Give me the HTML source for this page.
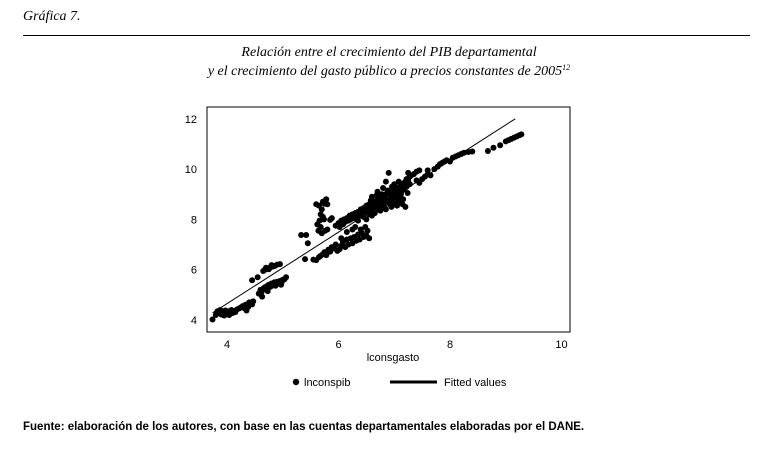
<!DOCTYPE html>
<html><head><meta charset="utf-8"><style>
body{margin:0;background:#fff;width:778px;height:451px;overflow:hidden;position:relative;font-family:"Liberation Sans",sans-serif}
.t{position:absolute;white-space:nowrap}
.serif{font-family:"Liberation Serif",serif;font-style:italic}
</style></head><body>
<div class="t serif" style="left:23px;top:9px;font-size:14px">Gráfica 7.</div>
<div style="position:absolute;left:23px;top:35px;width:727px;height:1px;background:#000"></div>
<div class="t serif" style="left:0;width:778px;text-align:center;top:44px;font-size:14px;line-height:18px">Relación entre el crecimiento del PIB departamental</div>
<div class="t serif" style="left:0;width:778px;text-align:center;top:63px;font-size:14px;line-height:18px">y el crecimiento del gasto público a precios constantes de 2005<span style="font-size:8px;vertical-align:5px;line-height:0">12</span></div>
<svg width="778" height="451" style="position:absolute;left:0;top:0">
<rect x="207" y="107" width="363" height="225" fill="none" stroke="#000" stroke-width="1"/>
<g id="ax" font-family="Liberation Sans, sans-serif" font-size="11" fill="#000"></g>
<g id="marks"></g>
<g font-family="Liberation Sans, sans-serif" font-size="11">
<circle cx="296" cy="382" r="3.2" fill="#000"/>
<text x="304" y="386">lnconspib</text>
<line x1="390" y1="382" x2="437" y2="382" stroke="#000" stroke-width="3"/>
<text x="444" y="386">Fitted values</text>
<text x="393" y="361" text-anchor="middle">lconsgasto</text>
</g>
</svg>
<div class="t" style="left:23px;top:421px;font-size:11.5px;font-weight:bold">Fuente: elaboración de los autores, con base en las cuentas departamentales elaboradas por el DANE.</div>
<script>
const xTicks=[4,6,8,10];
const yTicks=[4,6,8,10,12];
const fitX=[3.74,9.17];
const fitY=[4.28,12.0];
const pibGasto=[
[3.74,4.02],[3.80,4.20],[3.83,4.35],[3.86,4.28],[3.88,4.40],[3.90,4.22],[3.93,4.32],[3.95,4.18],[3.97,4.38],[4.00,4.25],
[4.02,4.35],[4.04,4.20],[4.06,4.30],[4.08,4.40],[4.10,4.28],[4.12,4.36],[4.15,4.32],[4.18,4.42],[4.22,4.46],[4.25,4.50],
[4.28,4.55],[4.30,4.48],[4.33,4.60],[4.36,4.62],[4.38,4.52],[4.40,4.70],[4.42,4.68],[4.35,4.38],[4.45,4.62],[4.47,4.74],
[4.45,5.58],[4.55,5.70],[4.65,5.95],[4.68,6.00],[4.72,6.05],[4.75,6.02],[4.78,6.10],[4.82,6.12],[4.86,6.15],[4.90,6.20],[4.95,6.22],[4.70,6.08],[4.80,6.18],
[4.57,5.05],[4.60,5.20],[4.62,5.12],[4.65,5.25],[4.68,5.30],[4.70,5.22],[4.72,5.35],[4.75,5.40],[4.78,5.32],[4.80,5.45],[4.83,5.38],[4.85,5.50],[4.88,5.44],[4.90,5.52],[4.92,5.48],[4.95,5.55],[4.98,5.50],[5.00,5.60],[5.03,5.62],[5.06,5.70],[4.63,4.93],[4.73,5.15],[4.87,5.36],[4.97,5.40],
[5.33,7.38],[5.42,7.38],[5.45,7.05],[5.40,6.42],[5.55,6.40],[5.60,8.60],[5.65,8.55],[5.70,8.40],[5.72,8.70],[5.75,8.62],[5.78,8.80],[5.80,8.60],[5.62,7.80],[5.66,7.95],[5.68,7.70],[5.72,8.10],[5.76,7.55],[5.80,7.60],[5.70,7.45],[5.64,7.55],[5.85,7.98],[5.88,8.05],[5.74,8.00],[5.68,8.20],
[5.60,6.38],[5.65,6.50],[5.68,6.55],[5.72,6.62],[5.75,6.70],[5.78,6.58],[5.82,6.80],[5.85,6.72],[5.88,6.90],[5.92,6.85],[5.95,7.00],[5.98,6.75],[6.02,6.82],[6.05,6.95],[6.08,7.10],[6.12,6.90],[6.15,7.20],[6.18,7.00],[6.22,7.25],[6.25,7.05],[6.28,7.30],[6.32,7.15],[6.35,7.40],[6.38,7.20],[6.42,7.45],[6.45,7.30],[6.50,7.35],[6.55,7.25],[6.05,7.25],[6.15,7.50],[6.25,7.60],[6.30,7.70],[6.40,7.60],[6.48,7.70],[6.52,7.55],
[5.95,7.75],[6.00,7.85],[6.02,7.70],[6.05,7.95],[6.08,7.80],[6.10,8.00],[6.12,7.90],[6.15,8.05],[6.18,7.95],[6.20,8.15],[6.22,8.00],[6.25,8.20],[6.28,8.05],[6.30,8.25],[6.32,8.10],[6.35,8.30],[6.38,8.15],[6.40,8.40],[6.42,8.25],[6.45,8.45],[6.48,8.30],[6.50,8.55],[6.52,8.35],[6.55,8.60],[6.58,8.40],[6.60,8.65],[6.62,8.45],[6.65,8.70],[6.68,8.50],[6.70,8.80],[6.72,8.55],[6.75,8.85],[6.78,8.60],[6.80,8.90],[6.82,8.65],[6.85,9.00],[6.88,8.70],[6.90,9.05],[6.92,8.75],[6.95,9.10],[6.98,8.80],[7.00,9.20],[7.02,8.85],[7.05,9.25],[7.08,8.90],[7.10,9.30],[7.12,9.40],[7.15,9.35],[7.18,9.45],[7.20,9.50],[7.22,9.60],[7.25,9.55],[7.28,9.70],[7.30,9.75],[7.25,9.85],[7.35,9.80],[7.40,9.90],[7.45,9.95],[6.90,9.85],[6.85,9.50],[6.60,8.90],[6.55,8.20],[6.65,8.25],[6.75,8.35],[6.85,8.40],[6.95,8.50],[7.05,8.55],[7.15,8.60],[7.20,8.50],[6.45,8.10],[6.35,7.95],[6.70,9.10],[6.80,9.25],[7.00,9.40],[7.10,8.70],[6.50,8.00],[6.60,8.15],
[6.58,8.75],[6.62,8.30],[6.68,8.95],[6.72,8.40],[6.74,8.70],[6.78,9.00],[6.82,8.50],[6.86,8.80],[6.88,9.15],[6.92,8.60],[6.94,8.95],[6.96,9.30],[7.00,8.65],[7.02,9.05],[7.04,8.75],[7.06,9.10],[7.08,9.50],[7.12,9.00],[7.14,9.15],[7.16,8.80],[7.18,9.20],[7.22,9.30],[7.24,9.05],[7.28,9.40],[6.64,8.55],[6.70,8.65],[6.76,8.50],[6.84,8.75],[6.98,9.00],[7.06,8.95],
[7.40,9.55],[7.45,9.45],[7.50,9.60],[7.55,9.70],[7.60,9.80],[7.65,9.75],[7.60,9.95],[7.72,10.00],[7.78,10.10],[7.82,10.20],[7.86,10.25],[7.90,10.30],[7.94,10.35],[8.00,10.30],[8.05,10.45],[8.10,10.50],[8.15,10.55],[8.20,10.60],[8.25,10.65],[8.33,10.68],[8.40,10.70],
[8.68,10.72],[8.78,10.85],[8.90,10.95],[9.00,11.10],[9.05,11.15],[9.10,11.20],[9.15,11.25],[9.20,11.30],[9.25,11.35],[9.28,11.38]
];
const NS='http://www.w3.org/2000/svg';
function sx(v){return 227+(v-4)*55.75;}
function sy(v){return 320-(v-4)*25.15;}
const ax=document.getElementById('ax');
xTicks.forEach(t=>{
 const e=document.createElementNS(NS,'text');
 e.setAttribute('x',sx(t));e.setAttribute('y',348);e.setAttribute('text-anchor','middle');
 e.textContent=t;
 
 
 ax.appendChild(e);
});
yTicks.forEach(t=>{
 const e=document.createElementNS(NS,'text');
 e.setAttribute('x',197);e.setAttribute('y',sy(t)+4);e.setAttribute('text-anchor','end');
 e.textContent=t;
 
 
 ax.appendChild(e);
});
const mk=document.getElementById('marks');
pibGasto.forEach(p=>{
 const c=document.createElementNS(NS,'circle');
 c.setAttribute('cx',sx(p[0]));c.setAttribute('cy',sy(p[1]));c.setAttribute('r',3);c.setAttribute('fill','#000');
 
 
 mk.appendChild(c);
});
const l=document.createElementNS(NS,'line');
l.setAttribute('x1',sx(fitX[0]));l.setAttribute('y1',sy(fitY[0]));
l.setAttribute('x2',sx(fitX[1]));l.setAttribute('y2',sy(fitY[1]));
l.setAttribute('stroke','#000');l.setAttribute('stroke-width','1');


mk.appendChild(l);
</script>
</body></html>
